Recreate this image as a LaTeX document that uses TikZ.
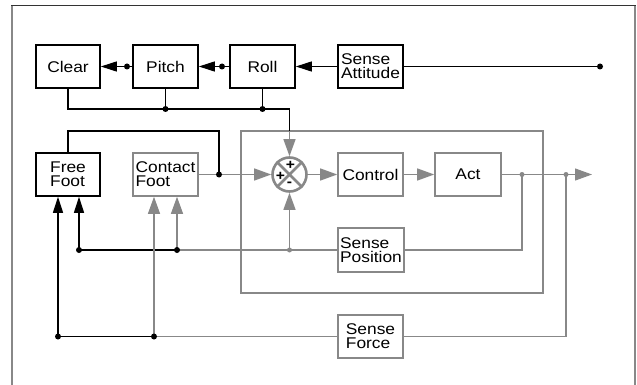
\documentclass[tikz,border=0pt]{standalone}
\usepackage{fontspec}
\setmainfont{Liberation Sans}[FakeStretch=1.12]
\usetikzlibrary{arrows.meta}
\definecolor{lg}{HTML}{888888}
\begin{document}
\begin{tikzpicture}[x=1pt,y=-1pt,
  every node/.style={font=\fontsize{15.5}{14}\selectfont},
  bbox/.style={draw=black,line width=1.6pt,fill=white,minimum width=64pt,minimum height=43pt,inner sep=0pt,align=left},
  gbox/.style={bbox,draw=lg},
  bl/.style={draw=black,line width=1.2pt},
  gl/.style={draw=lg,line width=1.2pt},
  barr/.style={bl,-{Triangle[length=16pt,width=10pt]}},
  garr/.style={gl,-{Triangle[length=17pt,width=12pt]}},
  bdot/.style={circle,fill=black,inner sep=0pt,minimum size=6pt},
  gdot/.style={circle,fill=lg,inner sep=0pt,minimum size=5pt},
  sgn/.style={font=\fontsize{14}{14}\selectfont\bfseries,inner sep=0pt}
]
\useasboundingbox (0,0) rectangle (637,385);
% outer frame
\draw[lg,line width=1.3pt] (12,6) -- (12,390);
\draw[lg,line width=2pt] (635,6) -- (635,390);
\draw[black!80,line width=1pt] (11.35,6) -- (636,6);

% inner loop box
\node[draw=lg,line width=1.2pt,minimum width=302pt,minimum height=162pt,inner sep=0pt] (loop) at (392,212) {};

% boxes
\node[bbox] (clear) at (68,66.5) {Clear};
\node[bbox,minimum width=65pt] (pitch) at (165.5,66.5) {Pitch};
\node[bbox,minimum width=65pt] (roll) at (262.5,66.5) {Roll};
\node[bbox,minimum width=65pt] (sa) at (370.5,66.5) {Sense\\Attitude};
\node[bbox] (free) at (68,174.5) {Free\\Foot};
\node[gbox,minimum width=65pt] (contact) at (165.5,174.5) {Contact\\Foot};
\node[gbox,minimum width=65pt] (control) at (370.5,174.5) {Control};
\node[gbox,minimum width=66pt] (act) at (468,174.5) {Act};
\node[gbox,minimum width=66pt,minimum height=44pt] (sp) at (371,250) {Sense\\Position};
\node[gbox,minimum width=65pt] (sf) at (370.5,336.5) {Sense\\Force};

% summing junction
\node[circle,draw=lg,line width=2.6pt,minimum size=34pt,inner sep=0pt] (sum) at (289.5,174.5) {};
\draw[lg,line width=2.6pt] (sum.north east) -- (sum.south west) (sum.north west) -- (sum.south east);
\node[sgn] (s1) at (290.5,165) {+};
\node[sgn] (s2) at (280.5,176) {+};
\node[sgn] (s3) at (289.5,184) {-};

% coordinates
\coordinate (saend) at (600,66.5);
\coordinate (d1) at (222,66.5);
\coordinate (d2) at (127,66.5);
\coordinate (j1) at (165.5,109);
\coordinate (j2) at (262.5,109);
\coordinate (j3) at (289.5,109);
\coordinate (bt) at (289.5,131);
\coordinate (k1) at (219,131);
\coordinate (k2) at (219,174.5);
\coordinate (p1) at (522,174.5);
\coordinate (p2) at (566,174.5);
\coordinate (out) at (592,174.5);
\coordinate (q1) at (289.5,250);
\coordinate (q2) at (177,250);
\coordinate (q3) at (79,250);
\coordinate (r2) at (154,336.5);
\coordinate (r1) at (58,336.5);

% top chain
\draw[bl] (sa.east) -- (saend);
\draw[barr] (sa.west) -- (roll.east);
\draw[bl] (roll.west) -- (d1);
\draw[barr] (d1) -- (pitch.east);
\draw[bl] (pitch.west) -- (d2);
\draw[barr] (d2) -- (clear.east);
\draw[bl] (clear.south) |- (j3) -- (bt);
\draw[bl] (pitch.south) -- (j1);
\draw[bl] (roll.south) -- (j2);
\draw[garr] (bt) -- (sum.north);

% foot feedback
\draw[bl] (free.north) |- (k1) -- (k2);
\draw[garr] (contact.east) -- (sum.west);
\draw[garr] (sum.east) -- (control.west);
\draw[garr] (control.east) -- (act.west);
\draw[garr] (act.east) -- (out);

% position loop
\draw[gl] (p1) |- (sp.east);
\draw[gl] (sp.west) -- (q1) -- (q2);
\draw[bl] (q2) -- (q3);
\draw[garr] (q1) -- (sum.south);
\draw[garr] (q2) -- (q2 |- contact.south);
\draw[barr] (q3) -- (q3 |- free.south);

% force loop
\draw[gl] (p2) |- (sf.east);
\draw[gl] (sf.west) -- (r2);
\draw[bl] (r2) -- (r1);
\draw[garr] (r2) -- (r2 |- contact.south);
\draw[barr] (r1) -- (r1 |- free.south);

% dots
\foreach \c in {saend,d1,d2,j1,j2,k2,q2,q3,r1,r2} \node[bdot] at (\c) {};
\foreach \c in {p1,p2,q1} \node[gdot] at (\c) {};
\end{tikzpicture}
\end{document}
